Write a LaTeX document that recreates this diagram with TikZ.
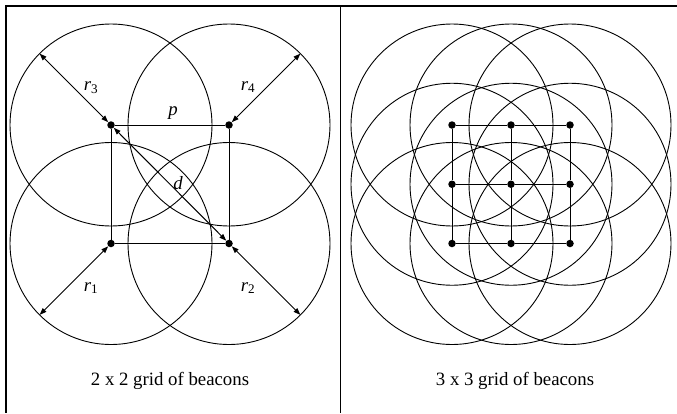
\documentclass[tikz,border=0pt]{standalone}
\usepackage{fontspec}
\setmainfont{Liberation Serif}
\usetikzlibrary{arrows.meta}
\begin{document}
\begin{tikzpicture}[x=1pt,y=-1pt,
  beacon/.style={circle,fill=black,inner sep=0pt,minimum size=7.5pt},
  rangecircle/.style={line width=0.9pt},
  beaconlink/.style={line width=1pt},
  dimarrow/.style={line width=1pt,{Triangle[length=7pt,width=5pt]}-{Triangle[length=7pt,width=5pt]}},
  lbltext/.style={font=\fontsize{18.8}{22}\selectfont, inner sep=0pt},
  captext/.style={font=\fontsize{18.8}{22}\selectfont, inner sep=0pt},
  frameline/.style={line width=2pt}]
\useasboundingbox (0,0) rectangle (677,413);
% frame
\draw[frameline] (5,6) -- (677,6);
\draw[frameline] (6,5) -- (6,413);
\draw[line width=1pt] (340,6) -- (340,413);

% ---- left panel: 2 x 2
\node[beacon] (b1) at (111,243.5) {};
\node[beacon] (b2) at (229,243.5) {};
\node[beacon] (b3) at (111,125) {};
\node[beacon] (b4) at (229,125) {};
\foreach \b in {b1,b2,b3,b4} \draw[rangecircle] (\b) circle[radius=101];
\draw[beaconlink] (b1) -- (b2);
\draw[beaconlink] (b2) -- (b4);
\draw[beaconlink] (b4) -- (b3);
\draw[beaconlink] (b3) -- (b1);
\coordinate (e1) at (39.6,314.9);
\coordinate (e2) at (300.4,314.9);
\coordinate (e3) at (39.6,53.6);
\coordinate (e4) at (300.4,53.6);
\draw[dimarrow] (e1) -- (b1);
\draw[dimarrow] (e2) -- (b2);
\draw[dimarrow] (e3) -- (b3);
\draw[dimarrow] (e4) -- (b4);
\draw[dimarrow] (b3) -- (b2);
\node[lbltext] (lr3) at (91,88) {\textit{r}\textsubscript{3}};
\node[lbltext] (lr4) at (248,87) {\textit{r}\textsubscript{4}};
\node[lbltext] (lr1) at (91,288) {\textit{r}\textsubscript{1}};
\node[lbltext] (lr2) at (248,288) {\textit{r}\textsubscript{2}};
\node[lbltext] (lp) at (173,113) {\textit{p}};
\node[lbltext] (ld) at (178,183) {\textit{d}};
\node[captext] (cap1) at (170,381) {2 x 2 grid of beacons};

% ---- right panel: 3 x 3
\foreach \i/\x in {1/452,2/511,3/570}
  \foreach \j/\y in {1/125,2/184.25,3/243.5}
    \node[beacon] (c\i\j) at (\x,\y) {};
\foreach \i in {1,2,3}
  \foreach \j in {1,2,3}
    \draw[rangecircle] (c\i\j) circle[radius=101];
\foreach \j in {1,2,3} {
  \draw[beaconlink] (c1\j) -- (c2\j);
  \draw[beaconlink] (c2\j) -- (c3\j);
  \draw[beaconlink] (c\j1) -- (c\j2);
  \draw[beaconlink] (c\j2) -- (c\j3);
}
\node[captext] (cap2) at (515,381) {3 x 3 grid of beacons};
\end{tikzpicture}
\end{document}
